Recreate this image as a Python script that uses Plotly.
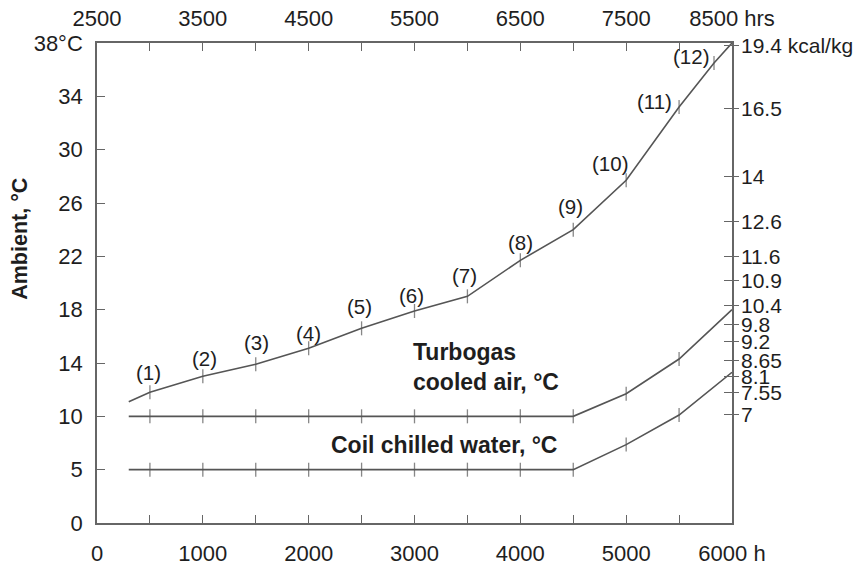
import numpy as np
import plotly.graph_objects as go

# ---- data ----
amb_tick_vals = [0, 5, 10, 14, 18, 22, 26, 30, 34, 38]
amb_tick_text = ["0", "5", "10", "14", "18", "22", "26", "30", "34", "38°C"]

hours_bottom_vals = [0, 1000, 2000, 3000, 4000, 5000, 6000]
hours_bottom_text = ["0", "1000", "2000", "3000", "4000", "5000", "6000 h"]
hours_top_text = ["2500", "3500", "4500", "5500", "6500", "7500", "8500 hrs"]

kcal_text = ["7", "7.55", "8.1", "8.65", "9.2", "9.8", "10.4", "10.9", "11.6",
             "12.6", "14", "16.5", "19.4 kcal/kg"]
kcal_at_ambient = [10.15, 11.8, 13.0, 14.2, 15.6, 16.9, 18.3, 20.2, 22.0,
                   24.6, 28.0, 33.1, 37.8]

amb_hours = [300, 500, 1000, 1500, 2000, 2500, 3000, 3500, 4000, 4500, 5000, 5500, 5830, 6000]
amb_temp = [11.1, 11.8, 13.0, 13.9, 15.1, 16.6, 17.9, 19.0, 21.7, 24.0, 27.7, 33.2, 36.5, 38.0]
amb_tags = ["", "(1)", "(2)", "(3)", "(4)", "(5)", "(6)", "(7)", "(8)", "(9)", "(10)", "(11)", "(12)", ""]

air_hours = [300, 500, 1000, 1500, 2000, 2500, 3000, 3500, 4000, 4500, 5000, 5500, 6000]
air_temp = [10, 10, 10, 10, 10, 10, 10, 10, 10, 10, 11.7, 14.3, 18.0]

water_hours = [300, 500, 1000, 1500, 2000, 2500, 3000, 3500, 4000, 4500, 5000, 5500, 6000]
water_temp = [5, 5, 5, 5, 5, 5, 5, 5, 5, 5, 7.35, 10.1, 13.3]

# label offsets (pixels) for the (n) tags
tag_dx = [0, -1, 2, 1, 0, -2, -3, -3, 0, -3, -16, -25, -23, 0]
tag_dy = [0, 20, 18, 22, 15, 22, 16, 21, 18, 23, 17, 6, 7, 0]


def pos(v):
    """map degrees C onto the chart's piecewise (evenly spaced tick) scale"""
    return np.interp(v, amb_tick_vals, np.arange(len(amb_tick_vals)))


LINE = "#555555"
FRAME = "#666666"
TXT = "#1e1e1e"
FONT = "Liberation Sans, Arial, sans-serif"

fig = go.Figure()


def add_series(h, t, tick_mask):
    fig.add_trace(go.Scatter(
        x=h, y=pos(t), mode="lines+markers",
        line=dict(color=LINE, width=1.6),
        marker=dict(symbol="line-ns", size=[10 if m else 0 for m in tick_mask],
                    line=dict(color=LINE, width=1.3), color=LINE),
        showlegend=False, hoverinfo="skip"))


add_series(amb_hours, amb_temp, [i not in (0, len(amb_hours) - 1) for i in range(len(amb_hours))])
add_series(air_hours, air_temp, [i not in (0, len(air_hours) - 1) for i in range(len(air_hours))])
add_series(water_hours, water_temp, [i not in (0, len(water_hours) - 1) for i in range(len(water_hours))])

# dummy traces so overlay axes are drawn
fig.add_trace(go.Scatter(x=[None], y=[None], xaxis="x2", yaxis="y", showlegend=False))
fig.add_trace(go.Scatter(x=[None], y=[None], xaxis="x", yaxis="y2", showlegend=False))
fig.add_trace(go.Scatter(x=[None], y=[None], xaxis="x", yaxis="y3", showlegend=False))

annotations = []
for h, t, tag, dx, dy in zip(amb_hours, amb_temp, amb_tags, tag_dx, tag_dy):
    if not tag:
        continue
    annotations.append(dict(x=h, y=float(pos(t)), xref="x", yref="y", text=tag,
                            showarrow=False, xshift=dx, yshift=dy,
                            font=dict(family=FONT, size=20.5, color=TXT)))

annotations.append(dict(x=-0.1213, y=0.592, xref="paper", yref="paper",
                        text="<b>Ambient, °C</b>", textangle=-90, showarrow=False,
                        xanchor="center", yanchor="middle",
                        font=dict(family=FONT, size=21.5, color=TXT)))
annotations.append(dict(x=0.4945, y=0.325, xref="paper", yref="paper",
                        text="<b>Turbogas<br>cooled air, °C</b>", showarrow=False,
                        xanchor="left", yanchor="middle", align="left",
                        font=dict(family=FONT, size=23, color=TXT)))
annotations.append(dict(x=0.3654, y=0.1625, xref="paper", yref="paper",
                        text="<b>Coil chilled water, °C</b>", showarrow=False,
                        xanchor="left", yanchor="middle", align="left",
                        font=dict(family=FONT, size=23, color=TXT)))

minor_hours = list(range(0, 6001, 500))
bottom_text = [hours_bottom_text[hours_bottom_vals.index(v)] if v in hours_bottom_vals else "" for v in minor_hours]
top_text = [hours_top_text[hours_bottom_vals.index(v)] if v in hours_bottom_vals else "" for v in minor_hours]

tickfont = dict(family=FONT, size=22, color=TXT)
rightfont = dict(family=FONT, size=21, color=TXT)

fig.update_layout(
    width=856, height=566,
    margin=dict(l=97, r=124, t=43, b=43, autoexpand=False),
    paper_bgcolor="white", plot_bgcolor="white",
    annotations=annotations,
    xaxis=dict(range=[0, 6000], tickvals=minor_hours, ticktext=bottom_text,
               ticks="inside", ticklen=8, tickcolor=FRAME, tickwidth=1.3,
               showline=True, linecolor=FRAME, linewidth=1.6, showgrid=False,
               zeroline=False, tickfont=tickfont, ticklabelstandoff=10, automargin=False),
    xaxis2=dict(range=[0, 6000], tickvals=minor_hours, ticktext=top_text,
                overlaying="x", side="top", anchor="y",
                ticks="inside", ticklen=8, tickcolor=FRAME, tickwidth=1.3,
                showline=True, linecolor=FRAME, linewidth=1.6, showgrid=False,
                zeroline=False, tickfont=tickfont, ticklabelstandoff=6, automargin=False),
    yaxis=dict(range=[0, 9], tickvals=list(range(len(amb_tick_vals))), ticktext=amb_tick_text,
               ticks="inside", ticklen=8, tickcolor=FRAME, tickwidth=1.3,
               showline=True, linecolor=FRAME, linewidth=1.6, showgrid=False,
               zeroline=False, tickfont=tickfont, ticklabelstandoff=8, automargin=False),
    yaxis2=dict(range=[0, 9], tickvals=[float(pos(v)) for v in kcal_at_ambient], ticktext=kcal_text,
                overlaying="y", side="right", anchor="x",
                ticks="outside", ticklen=5, tickcolor=FRAME, tickwidth=1.3,
                showline=True, linecolor=FRAME, linewidth=1.6, showgrid=False,
                zeroline=False, tickfont=rightfont, ticklabelstandoff=-2, automargin=False),
    yaxis3=dict(range=[0, 9], tickvals=[float(pos(v)) for v in kcal_at_ambient],
                overlaying="y", side="right", anchor="x", showticklabels=False,
                ticks="inside", ticklen=8, tickcolor=FRAME, tickwidth=1.3,
                showline=False, showgrid=False, zeroline=False, automargin=False),
)

fig.write_html("out.html")
